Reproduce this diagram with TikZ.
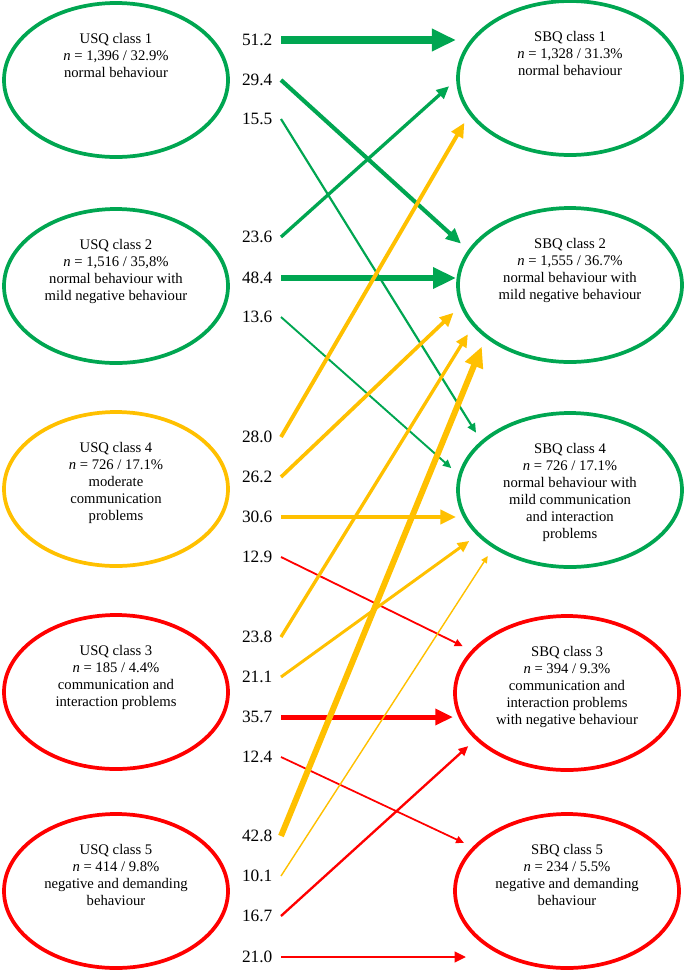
\documentclass[tikz,border=0pt]{standalone}
\usepackage{fontspec}
\setmainfont{Liberation Serif}
\usepackage{xcolor}
\usetikzlibrary{calc, positioning, shapes.geometric, arrows.meta}
\definecolor{clsgreen}{RGB}{0,166,81}
\definecolor{clsyellow}{RGB}{255,192,0}
\definecolor{clsred}{RGB}{255,0,0}

\begin{document}
\begin{tikzpicture}[
        x=0.75pt, y=-0.75pt,
        cls/.style={ellipse, draw=#1, line width=2.8pt, minimum width=168pt,
            minimum height=115.5pt, outer sep=1.5pt},
        txt/.style={anchor=north, align=center, inner sep=0pt,
            font=\fontsize{11}{12.7}\selectfont},
        val/.style={anchor=east, inner sep=0pt, outer xsep=6.5pt,
            font=\fontsize{13}{15}\selectfont},
        flow/.style args={#1/#2}{draw=#1, line width=0.105pt*#2, shorten >=7pt,
            -{Triangle[length=2pt 3, width=2pt 2.6]}},
        flat/.style={shorten >=0pt}
    ]
    \useasboundingbox (0,0) rectangle (685,972);

    \node[cls=clsgreen]  (u1) at (116,80)  {};
    \node[cls=clsgreen]  (u2) at (116,286) {};
    \node[cls=clsyellow] (u4) at (116,489) {};
    \node[cls=clsred]    (u3) at (116,692) {};
    \node[cls=clsred]    (u5) at (116,891) {};
    \node[cls=clsgreen]  (s1) at (570,78)  {};
    \node[cls=clsgreen]  (s2) at (570,285) {};
    \node[cls=clsgreen]  (s4) at (570,490) {};
    \node[cls=clsred]    (s3) at (567,693) {};
    \node[cls=clsred]    (s5) at (567,891) {};

    \node[txt] (u1t) at ([yshift=35pt]u1.center) {USQ class 1\\ \textit{n} = 1,396 / 32.9\%\\ normal behaviour};
    \node[txt] (u2t) at ([yshift=35pt]u2.center) {USQ class 2\\ \textit{n} = 1,516 / 35,8\%\\ normal behaviour with\\ mild negative behaviour};
    \node[txt] (u4t) at ([yshift=35pt]u4.center) {USQ class 4\\ \textit{n} = 726 / 17.1\%\\ moderate\\ communication\\ problems};
    \node[txt] (u3t) at ([yshift=35pt]u3.center) {USQ class 3\\ \textit{n} = 185 / 4.4\%\\ communication and\\ interaction problems};
    \node[txt] (u5t) at ([yshift=35pt]u5.center) {USQ class 5\\ \textit{n} = 414 / 9.8\%\\ negative and demanding\\ behaviour};
    \node[txt] (s1t) at ([yshift=35pt]s1.center) {SBQ class 1\\ \textit{n} = 1,328 / 31.3\%\\ normal behaviour};
    \node[txt] (s2t) at ([yshift=35pt]s2.center) {SBQ class 2\\ \textit{n} = 1,555 / 36.7\%\\ normal behaviour with\\ mild negative behaviour};
    \node[txt] (s4t) at ([yshift=35pt]s4.center) {SBQ class 4\\ \textit{n} = 726 / 17.1\%\\ normal behaviour with\\ mild communication\\ and interaction\\ problems};
    \node[txt] (s3t) at ([yshift=35pt]s3.center) {SBQ class 3\\ \textit{n} = 394 / 9.3\%\\ communication and\\ interaction problems\\ with negative behaviour};
    \node[txt] (s5t) at ([yshift=35pt]s5.center) {SBQ class 5\\ \textit{n} = 234 / 5.5\%\\ negative and demanding\\ behaviour};

    \node[val] (u1s1) at (281,40)  {51.2};
    \node[val] (u1s2) at (281,80)  {29.4};
    \node[val] (u1s4) at (281,119) {15.5};
    \node[val] (u2s1) at (281,237) {23.6};
    \node[val] (u2s2) at (281,278) {48.4};
    \node[val] (u2s4) at (281,317) {13.6};
    \node[val] (u4s1) at (281,437) {28.0};
    \node[val] (u4s2) at (281,477) {26.2};
    \node[val] (u4s4) at (281,517) {30.6};
    \node[val] (u4s3) at (281,557) {12.9};
    \node[val] (u3s2) at (281,637) {23.8};
    \node[val] (u3s4) at (281,677) {21.1};
    \node[val] (u3s3) at (281,717) {35.7};
    \node[val] (u3s5) at (281,757) {12.4};
    \node[val] (u5s2) at (281,836) {42.8};
    \node[val] (u5s4) at (281,876) {10.1};
    \node[val] (u5s3) at (281,916) {16.7};
    \node[val] (u5s5) at (281,957) {21.0};

    \draw[flow=clsgreen/51.2, flat] (u1s1.east) -- (u1s1.east -| s1.west);
    \draw[flow=clsgreen/29.4] (u1s2.east) -- (s2.161);
    \draw[flow=clsgreen/15.5] (u1s4.east) -- (s4.151);
    \draw[flow=clsgreen/23.6] (u2s1.east) -- (s1.181);
    \draw[flow=clsgreen/48.4, flat] (u2s2.east) -- (u2s2.east -| s2.west);
    \draw[flow=clsgreen/13.6] (u2s4.east) -- (s4.172);
    \draw[flow=clsyellow/28.0] (u4s1.east) -- (s1.200);
    \draw[flow=clsyellow/26.2] (u4s2.east) -- (s2.191);
    \draw[flow=clsyellow/30.6, flat] (u4s4.east) -- (u4s4.east -| s4.west);
    \draw[flow=clsred/12.9] (u4s3.east) -- (s3.156);
    \draw[flow=clsyellow/23.8] (u3s2.east) -- (s2.203);
    \draw[flow=clsyellow/21.1] (u3s4.east) -- (s4.206);
    \draw[flow=clsred/35.7, flat] (u3s3.east) -- (u3s3.east -| s3.west);
    \draw[flow=clsred/12.4] (u3s5.east) -- (s5.155);
    \draw[flow=clsyellow/42.8] (u5s2.east) -- (s2.212);
    \draw[flow=clsyellow/10.1] (u5s4.east) -- (s4.217);
    \draw[flow=clsred/16.7] (u5s3.east) -- (s3.207);
    \draw[flow=clsred/21.0, flat] (u5s5.east) -- (u5s5.east -| s5.200);
\end{tikzpicture}
\end{document}
